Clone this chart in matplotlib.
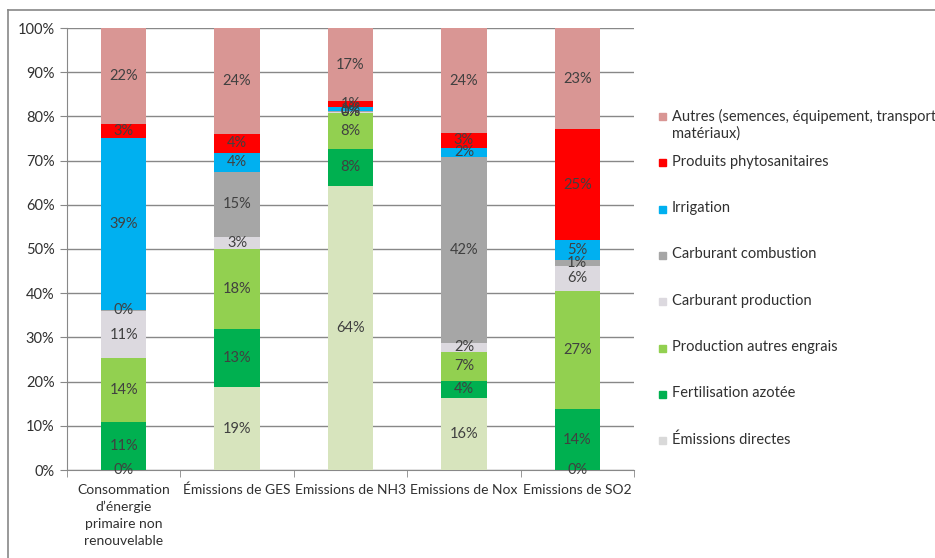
import matplotlib.pyplot as plt
from matplotlib.patches import Rectangle
from matplotlib.lines import Line2D
import numpy as np

plt.rcParams['font.family'] = ['Lato', 'DejaVu Sans']

# categories on the x axis
categories = ["Consommation\nd\u2019\u00e9nergie\nprimaire non\nrenouvelable",
              "\u00c9missions de GES", "Emissions de NH3",
              "Emissions de Nox", "Emissions de SO2"]

# series, bottom to top (values in %)
series_names = ["\u00c9missions directes", "Fertilisation azot\u00e9e",
                "Production autres engrais", "Carburant production",
                "Carburant combustion", "Irrigation",
                "Produits phytosanitaires",
                "Autres (semences, \u00e9quipement, transport\nmat\u00e9riaux)"]
directes = [0.0, 18.7, 64.2, 16.4, 0.0]
fertilisation = [10.9, 13.3, 8.5, 3.7, 13.7]
autres_engrais = [14.4, 18.0, 8.1, 6.7, 26.9]
carb_production = [10.7, 2.8, 0.2, 1.9, 5.6]
carb_combustion = [0.2, 14.7, 0.2, 42.2, 1.2]
irrigation = [38.9, 4.3, 0.9, 2.0, 4.6]
phyto = [3.1, 4.2, 1.3, 3.3, 25.1]
autres = [21.8, 24.0, 16.6, 23.8, 22.9]

colors = ["#d7e4bd", "#00b050", "#92d050", "#dcd9df",
          "#a6a6a6", "#00b0f0", "#ff0000", "#d99694"]
legend_colors = ["#d9d9d9", "#00b050", "#92d050", "#dcd9df",
                 "#a6a6a6", "#00b0f0", "#ff0000", "#d99694"]

all_series = [directes, fertilisation, autres_engrais, carb_production,
              carb_combustion, irrigation, phyto, autres]

fig = plt.figure(figsize=(9.35, 5.58), dpi=100)
ax = fig.add_axes([67/935, 88/558, (634-67)/935, (470-28)/558])

x = np.arange(len(categories))
bottom = np.zeros(len(categories))
for vals, col in zip(all_series, colors):
    bars = ax.bar(x, vals, width=0.4, bottom=bottom, color=col, zorder=3)
    ax.bar_label(bars, labels=[f"{v:.0f}%" for v in vals], label_type='center',
                 fontsize=10.5, color='#404040', zorder=4)
    bottom += np.array(vals)

ax.set_xlim(-0.5, len(categories) - 0.5)
ax.set_ylim(0, 100)
ax.set_yticks(np.arange(0, 101, 10))
ax.set_yticklabels([f"{t}%" for t in range(0, 101, 10)], fontsize=10.5, color='#303030')
ax.yaxis.grid(True, color='#888888', linewidth=1, zorder=0)
ax.tick_params(axis='y', length=5, color='#888888', pad=4)

# category ticks sit between the bars
ax.set_xticks(x)
ax.set_xticklabels(categories, fontsize=10, color='#303030', linespacing=1.5)
ax.tick_params(axis='x', length=0, pad=10)
ax.set_xticks(np.arange(-0.5, len(categories)), minor=True)
ax.tick_params(axis='x', which='minor', length=5, color='#888888')

for side in ['top', 'right']:
    ax.spines[side].set_visible(False)
for side in ['left', 'bottom']:
    ax.spines[side].set_color('#888888')

# legend drawn by hand, top entry first
for k in range(len(series_names)):
    i = len(series_names) - 1 - k
    yc = 1 - (116.5 + 46.3 * k) / 558
    fig.patches.append(Rectangle((659/935, yc - 3.5/558), 7/935, 7/558,
                                 transform=fig.transFigure, color=legend_colors[i]))
    fig.text(672/935, yc + 8/558, series_names[i], fontsize=10.5, color='#303030',
             va='top', ha='left', linespacing=1.25)

# outer chart frame
fig.add_artist(Line2D([8/935, 1], [1 - 10/558, 1 - 10/558], color='#888888', lw=1.2))
fig.add_artist(Line2D([8/935, 8/935], [0, 1 - 10/558], color='#888888', lw=1.2))

fig.savefig("out.png", dpi=100)
